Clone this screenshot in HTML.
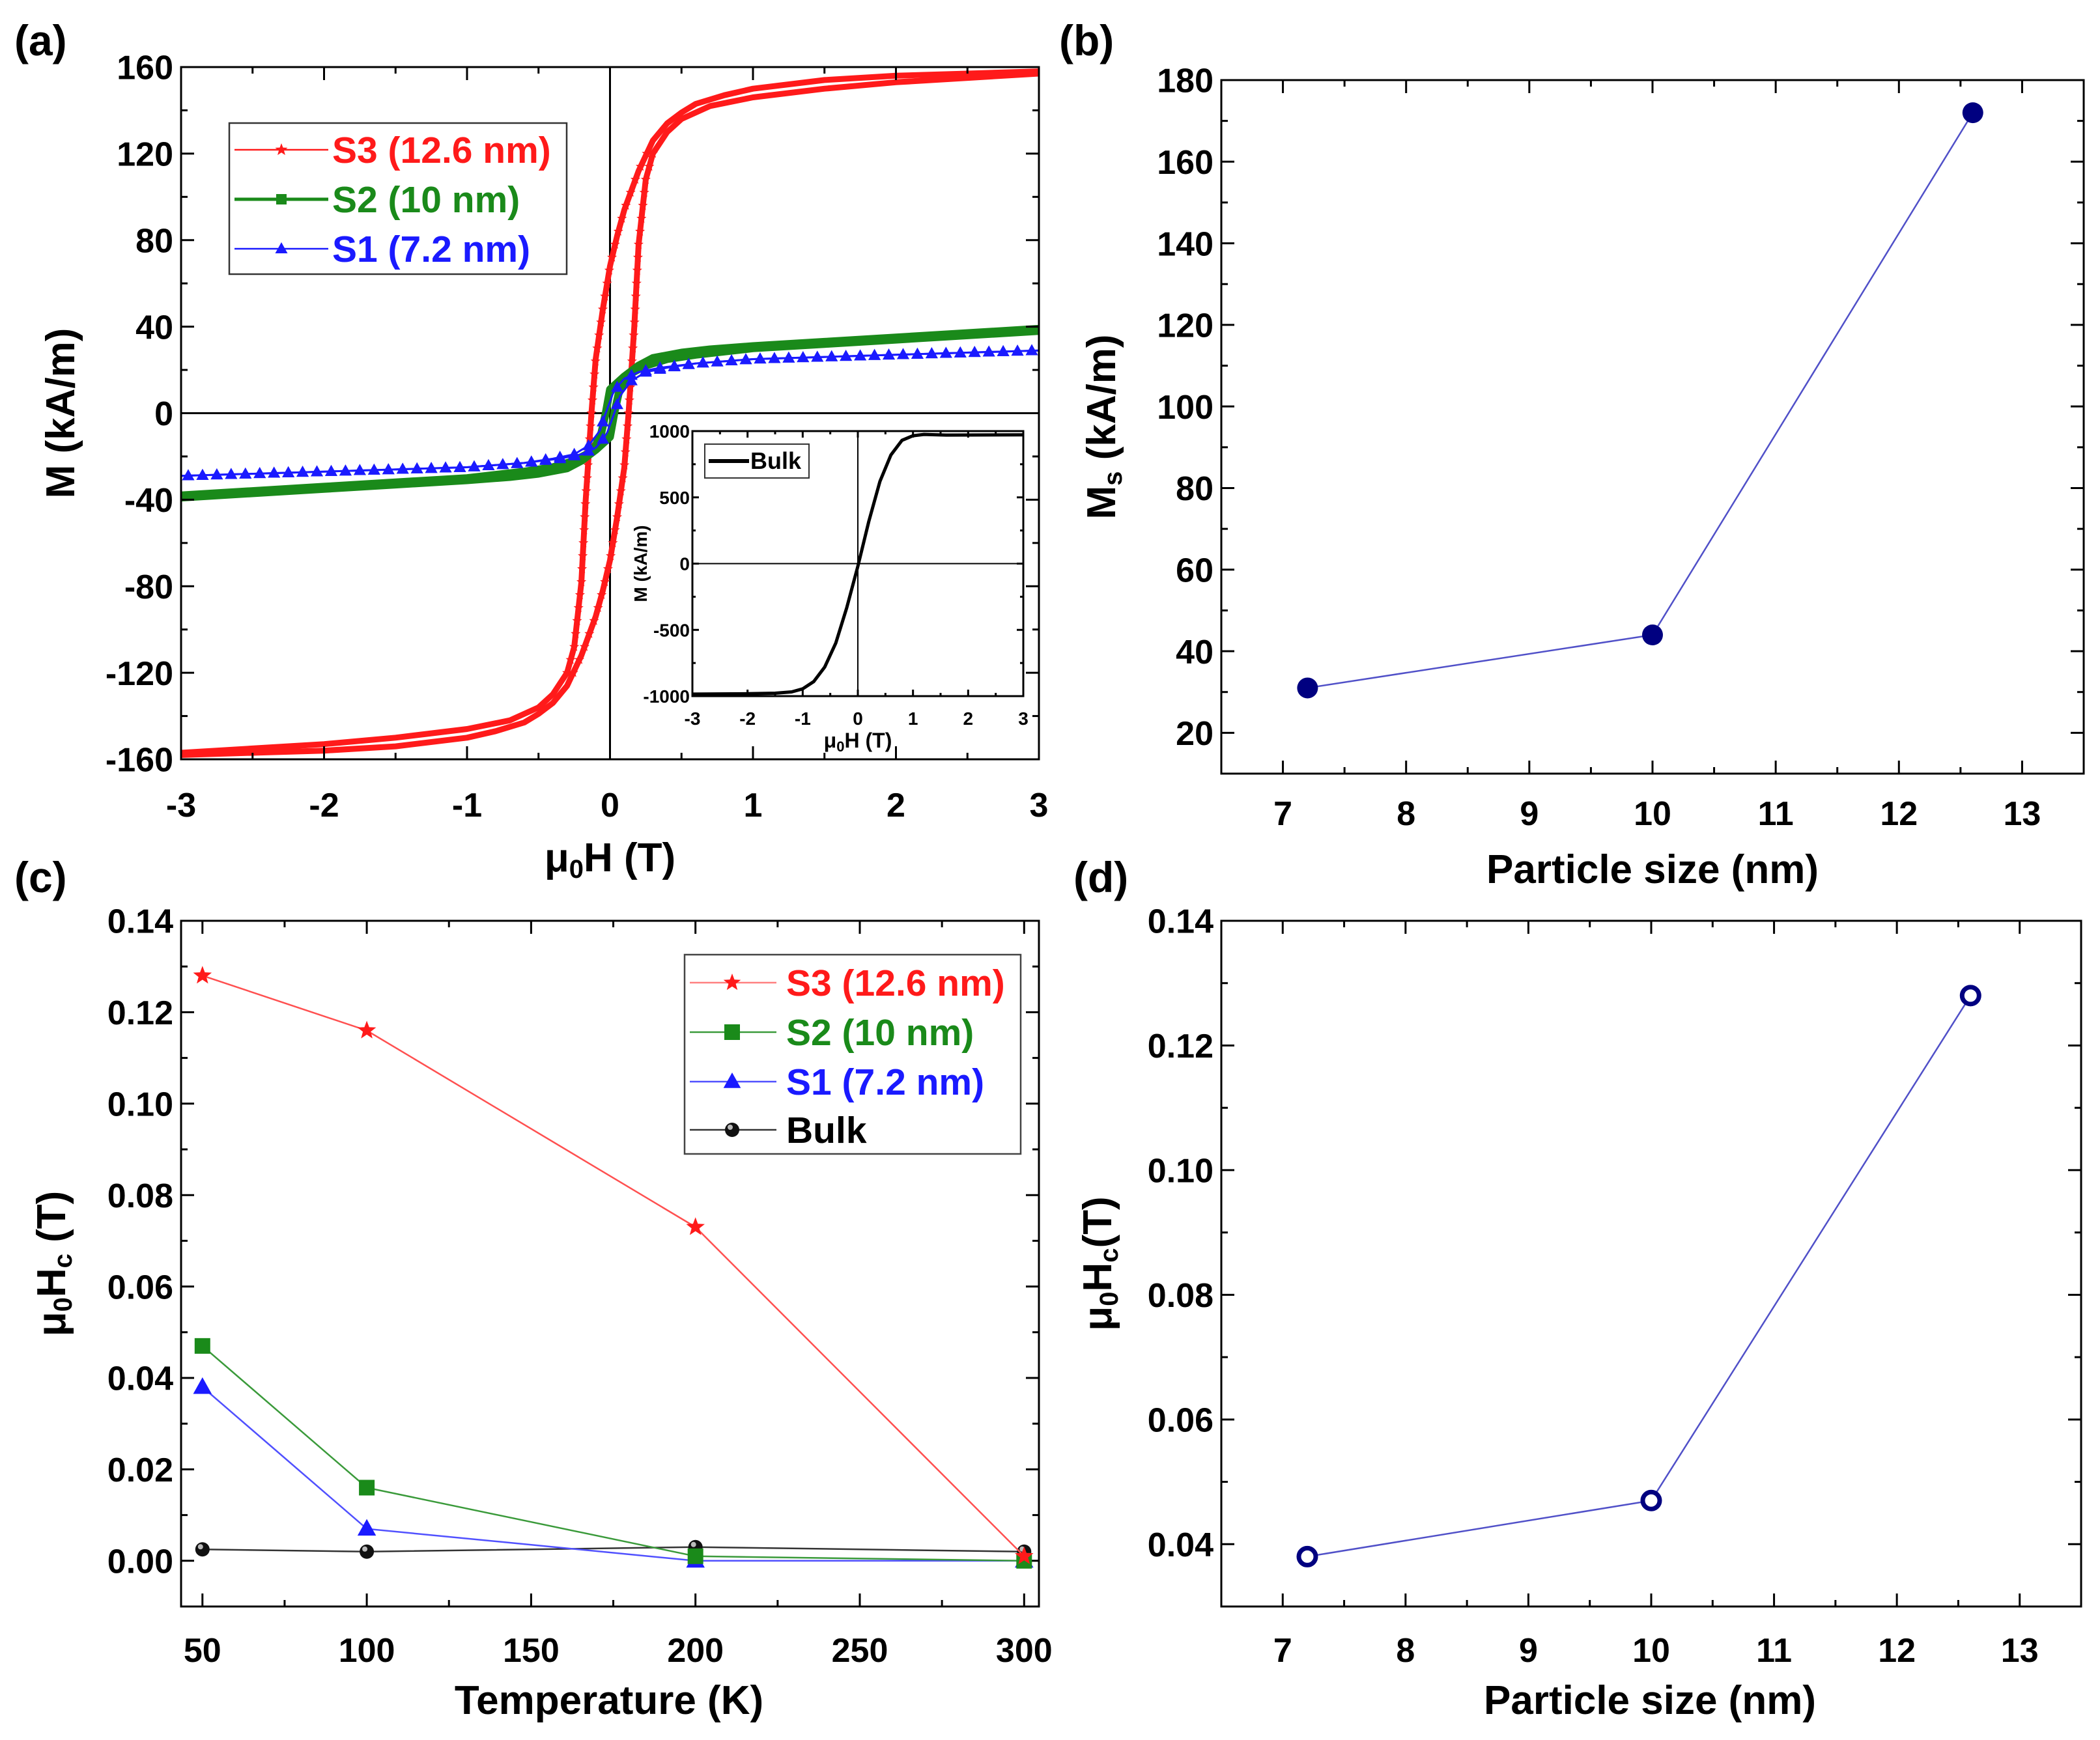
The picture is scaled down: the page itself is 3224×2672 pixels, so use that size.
<!DOCTYPE html>
<html><head><meta charset="utf-8"><style>
html,body{margin:0;padding:0;background:#fff;}
svg{display:block;font-family:"Liberation Sans Narrow","Liberation Sans",sans-serif;font-weight:bold;}
</style></head><body>
<svg id="fig" width="3224" height="2672" viewBox="0 0 3224 2672" xmlns="http://www.w3.org/2000/svg"></svg>
<script>
// ---- Panel (a) hysteresis data: descending branches (H in T, M in kA/m) ----
const s3H = [3, 2.5, 2, 1.5, 1, 0.8, 0.6, 0.5, 0.4, 0.3, 0.2, 0.1, 0.05, 0, -0.05, -0.1, -0.13, -0.17, -0.2, -0.25, -0.3, -0.4, -0.5, -0.7, -1, -1.5, -2, -3];
const s3M = [158, 157, 156, 154, 150, 147, 143, 139, 134, 126, 112, 94, 82, 68, 48, 25, 0, -40, -78, -108, -120, -130, -136, -142, -146, -150, -153, -157];
const s2H = [3, 2, 1.5, 1, 0.7, 0.5, 0.3, 0.2, 0.1, 0.05, 0, -0.03, -0.06, -0.1, -0.15, -0.25, -0.4, -0.6, -1, -1.5, -2, -3];
const s2M = [39, 35, 33, 31, 29.5, 28, 25.5, 22, 17, 14, 11, 0, -9, -15, -18.5, -22, -25, -27, -30, -32, -34, -38];
const s1H = [3, 2, 1, 0.6, 0.4, 0.25, 0.15, 0.07, 0.03, -0.02, -0.06, -0.1, -0.2, -0.35, -0.6, -1, -2, -3];
const s1M = [29, 27, 25, 23, 21, 19, 15, 8, 0, -9, -13, -16, -19, -21, -23, -25, -27, -29];
const bulkH = [-3, -2, -1.5, -1.2, -1, -0.8, -0.6, -0.4, -0.2, 0, 0.2, 0.4, 0.6, 0.8, 1, 1.2, 1.6, 3];
const bulkM = [-985, -982, -978, -968, -945, -890, -780, -600, -330, -20, 320, 620, 820, 930, 965, 975, 970, 972];
// ---- Panel (b) ----
const sizes = [7.2, 10, 12.6];
const msVals = [31, 44, 172];
// ---- Panel (c) ----
const temps = [50, 100, 200, 300];
const hcS3 = [0.128, 0.116, 0.073, 0.001];
const hcS2 = [0.047, 0.016, 0.001, 0.000];
const hcS1 = [0.038, 0.007, 0.000, 0.000];
const hcBulk = [0.0025, 0.002, 0.003, 0.002];
// ---- Panel (d) ----
const hcSize = [0.038, 0.047, 0.128];
// tick labels
const aXTicks = [-3,-2,-1,0,1,2,3];
const aYTicks = [-160,-120,-80,-40,0,40,80,120,160];
const inXTicks = [-3,-2,-1,0,1,2,3];
const inYTicks = [-1000,-500,0,500,1000];
const bXTicks = [7,8,9,10,11,12,13];
const bYTicks = [20,40,60,80,100,120,140,160,180];
const cXTicks = [50,100,150,200,250,300];
const cYTicks = ["0.00","0.02","0.04","0.06","0.08","0.10","0.12","0.14"];
const dYTicks = ["0.04","0.06","0.08","0.10","0.12","0.14"];

const NS="http://www.w3.org/2000/svg";
const svg=document.getElementById('fig');
function mk(tag,attrs,parent){const e=document.createElementNS(NS,tag);for(const k in attrs)e.setAttribute(k,attrs[k]);(parent||svg).appendChild(e);return e;}
function txt(s,attrs,parent){const e=mk('text',attrs,parent);e.textContent=s;return e;}
function scale(d0,d1,r0,r1){return v=>r0+(v-d0)*(r1-r0)/(d1-d0);}

function axes(g,L,R,T,B,xs,ys,xt,yt,xminor,yminor,fs,tl,xlabY,ylabX,name){
  mk('rect',{x:L,y:T,width:R-L,height:B-T,fill:'none',stroke:'#000','stroke-width':3},g);
  xt.forEach(v=>{const x=xs(+v);
    mk('line',{x1:x,y1:B,x2:x,y2:B-tl,stroke:'#000','stroke-width':3},g);
    mk('line',{x1:x,y1:T,x2:x,y2:T+tl,stroke:'#000','stroke-width':3},g);
    const t=txt(String(v),{x:x,y:xlabY,'text-anchor':'middle','font-size':fs},g);
    });
  xminor.forEach(v=>{const x=xs(v);
    mk('line',{x1:x,y1:B,x2:x,y2:B-tl/2,stroke:'#000','stroke-width':3},g);
    mk('line',{x1:x,y1:T,x2:x,y2:T+tl/2,stroke:'#000','stroke-width':3},g);});
  yt.forEach(v=>{const y=ys(+v);
    mk('line',{x1:L,y1:y,x2:L+tl,y2:y,stroke:'#000','stroke-width':3},g);
    mk('line',{x1:R,y1:y,x2:R-tl,y2:y,stroke:'#000','stroke-width':3},g);
    const t=txt(String(v),{x:ylabX,y:y+fs*0.36,'text-anchor':'end','font-size':fs},g);
    });
  yminor.forEach(v=>{const y=ys(v);
    mk('line',{x1:L,y1:y,x2:L+tl/2,y2:y,stroke:'#000','stroke-width':3},g);
    mk('line',{x1:R,y1:y,x2:R-tl/2,y2:y,stroke:'#000','stroke-width':3},g);});
}
function pathOf(xsArr,ysArr,xs,ys){return xsArr.map((v,i)=>(i?'L':'M')+xs(v).toFixed(1)+' '+ys(ysArr[i]).toFixed(1)).join(' ');}
function interp(H,M,h){
  for(let i=0;i<H.length-1;i++){const a=H[i],b=H[i+1];if((h<=a&&h>=b)||(h>=a&&h<=b)){return M[i]+(h-a)*(M[i+1]-M[i])/(b-a);}}
  return M[M.length-1];}
function star(cx,cy,r,fill,parent){let p='';for(let i=0;i<10;i++){const rr=i%2?r*0.42:r;const a=-Math.PI/2+i*Math.PI/5;p+=(i?'L':'M')+(cx+rr*Math.cos(a)).toFixed(1)+' '+(cy+rr*Math.sin(a)).toFixed(1);}return mk('path',{d:p+'Z',fill:fill},parent);}
function tri(cx,cy,r,fill,parent){return mk('path',{d:`M${cx} ${cy-r}L${cx+r*0.95} ${cy+r*0.7}L${cx-r*0.95} ${cy+r*0.7}Z`,fill:fill},parent);}

const TF=52, AF=62;
// ================= Panel (a) =================
{
const g=mk('g',{}); 
const L=278,R=1595,T=103,B=1166;
const xs=scale(-3,3,L,R), ys=scale(-160,160,B,T);
mk('line',{x1:L,y1:ys(0),x2:R,y2:ys(0),stroke:'#000','stroke-width':3},g);
mk('line',{x1:xs(0),y1:T,x2:xs(0),y2:B,stroke:'#000','stroke-width':3},g);
const minX=[];for(let v=-2.5;v<3;v+=1)minX.push(v);
const minY=[];for(let v=-140;v<160;v+=40)minY.push(v);
function loop(H,M,color,w,name){
  const up=H.map(h=>-h), upM=M.map(m=>-m);
  const p1=mk('path',{d:pathOf(H,M,xs,ys),fill:'none',stroke:color,'stroke-width':w,'stroke-linejoin':'round'},g);
  
  const p2=mk('path',{d:pathOf(up,upM,xs,ys),fill:'none',stroke:color,'stroke-width':w,'stroke-linejoin':'round'},g);
  
}
loop(s3H,s3M,'#ff1a1a',9,'s3-loop');
for(let m=-120;m<=120;m+=6){
  const hd=interp(s3M,s3H,m); star(xs(hd),ys(m),8,'#ff1a1a',g); star(xs(-hd),ys(-m),8,'#ff1a1a',g);
}
loop(s2H,s2M,'#1a8a1a',12,'s2-loop');
loop(s1H,s1M,'#1a1aff',3,'s1-loop');
for(let h=-2.95;h<=3;h+=0.1){
  tri(xs(h),ys(interp(s1H,s1M,h)),10,'#1a1aff',g);
  tri(xs(-h),ys(-interp(s1H,s1M,h)),10,'#1a1aff',g);
}
axes(g,L,R,T,B,xs,ys,aXTicks,aYTicks,minX,minY,TF,20,1254,L-12,'panel-a');
let t=txt('M (kA/m)',{transform:`translate(114,${ys(0)}) rotate(-90)`,'text-anchor':'middle','font-size':AF},g);

t=mk('text',{x:xs(0),y:1338,'text-anchor':'middle','font-size':AF},g);
t.innerHTML='μ<tspan font-size="40" dy="10">0</tspan><tspan dy="-10">H (T)</tspan>';

t=txt('(a)',{x:22,y:85,'font-size':66,'font-family':'Liberation Sans, sans-serif'},g);

const lg=mk('g',{},g);
mk('rect',{x:352,y:189,width:518,height:232,fill:'#fff',stroke:'#333','stroke-width':2.5},lg);
[['S3 (12.6 nm)','#ff1a1a',230],['S2 (10 nm)','#1a8a1a',306],['S1 (7.2 nm)','#1a1aff',382]].forEach((e,i)=>{
  const eg=mk('g',{},lg);
  mk('line',{x1:360,y1:e[2],x2:504,y2:e[2],stroke:e[1],'stroke-width':i==1?5:2.5},eg);
  if(i==0)star(432,e[2],10,e[1],eg);else if(i==1)mk('rect',{x:424,y:e[2]-8,width:16,height:16,fill:e[1]},eg);else tri(432,e[2],10,e[1],eg);
  txt(e[0],{x:510,y:e[2]+20,'font-size':57,fill:e[1]},eg);
});
const ig=mk('g',{},g);
const iL=1063,iR=1571,iT=662,iB=1069;
const ixs=scale(-3,3,iL,iR), iys=scale(-1000,1000,iB,iT);
mk('rect',{x:iL,y:iT,width:iR-iL,height:iB-iT,fill:'#fff'},ig);
mk('line',{x1:iL,y1:iys(0),x2:iR,y2:iys(0),stroke:'#000','stroke-width':2},ig);
mk('line',{x1:ixs(0),y1:iT,x2:ixs(0),y2:iB,stroke:'#000','stroke-width':2},ig);
const ip=mk('path',{d:pathOf(bulkH,bulkM,ixs,iys),fill:'none',stroke:'#000','stroke-width':5,'stroke-linejoin':'round'},ig);

axes(ig,iL,iR,iT,iB,ixs,iys,inXTicks,inYTicks,[-2.5,-1.5,-0.5,0.5,1.5,2.5],[-750,-250,250,750],28,10,1113,iL-4,'inset');
t=txt('M (kA/m)',{transform:`translate(993,${iys(0)}) rotate(-90)`,'text-anchor':'middle','font-size':28},ig);

t=mk('text',{x:ixs(0),y:1148,'text-anchor':'middle','font-size':32},ig);
t.innerHTML='μ<tspan font-size="22" dy="6">0</tspan><tspan dy="-6">H (T)</tspan>';

mk('rect',{x:1082,y:682,width:160,height:52,fill:'#fff',stroke:'#333','stroke-width':2},ig);
mk('line',{x1:1088,y1:708,x2:1150,y2:708,stroke:'#000','stroke-width':6},ig);
t=txt('Bulk',{x:1152,y:720,'font-size':36},ig);

}

// ================= Panel (b) =================
{
const g=mk('g',{});
const L=1875,R=3199,T=123,B=1188;
const xs=scale(6.5,13.5,L,R), ys=scale(10,180,B,T);
const minX=[6.5,7.5,8.5,9.5,10.5,11.5,12.5,13.5];const minY=[];for(let v=10;v<=170;v+=20)minY.push(v);
axes(g,L,R,T,B,xs,ys,bXTicks,bYTicks,minX,minY,TF,20,1267,L-12,'panel-b');
const p=mk('path',{d:pathOf(sizes,msVals,xs,ys),fill:'none',stroke:'#5050c8','stroke-width':2.5},g);

sizes.forEach((s,i)=>{const c=mk('circle',{cx:xs(s),cy:ys(msVals[i]),r:16,fill:'#000080'},g);
  });
let t=mk('text',{transform:`translate(1712,${ys(95)}) rotate(-90)`,'text-anchor':'middle','font-size':AF},g);
t.innerHTML='M<tspan font-size="40" dy="10">s</tspan><tspan dy="-10"> (kA/m)</tspan>';

t=txt('Particle size (nm)',{x:2537,y:1356,'text-anchor':'middle','font-size':AF},g);

t=txt('(b)',{x:1626,y:85,'font-size':66,'font-family':'Liberation Sans, sans-serif'},g);

}

// ================= Panel (c) =================
{
const g=mk('g',{});
const L=278,R=1595,T=1414,B=2467;
const xs=scale(43.5,304.5,L,R), ys=scale(-0.01,0.14,B,T);
const minX=[75,125,175,225,275];const minY=[-0.01,0.01,0.03,0.05,0.07,0.09,0.11,0.13];
axes(g,L,R,T,B,xs,ys,cXTicks,cYTicks,minX,minY,TF,20,2552,L-12,'panel-c');
const series=[[hcS3,'#ff5050','#ff1a1a','star','s3'],[hcS2,'#3a9a3a','#1a8a1a','sq','s2'],[hcS1,'#5050ff','#1a1aff','tri','s1'],[hcBulk,'#333','#000','circ','bulk']];
series.slice().reverse().forEach(s=>{
  const p=mk('path',{d:pathOf(temps,s[0],xs,ys),fill:'none',stroke:s[1],'stroke-width':2.5},g);
  
  temps.forEach((tv,i)=>{const x=xs(tv),y=ys(s[0][i]);let m;
    if(s[3]=='star')m=star(x,y,15,s[2],g);
    else if(s[3]=='sq')m=mk('rect',{x:x-12,y:y-12,width:24,height:24,fill:s[2]},g);
    else if(s[3]=='tri')m=tri(x,y,15,s[2],g);
    else {m=mk('circle',{cx:x,cy:y,r:11,fill:'#111'},g);mk('circle',{cx:x-3,cy:y-4,r:4,fill:'#bbb'},g);}
    });
});
let t=mk('text',{transform:`translate(100,${ys(0.065)}) rotate(-90)`,'text-anchor':'middle','font-size':AF},g);
t.innerHTML='μ<tspan font-size="40" dy="10">0</tspan><tspan dy="-10">H</tspan><tspan font-size="40" dy="10">c</tspan><tspan dy="-10"> (T)</tspan>';

t=txt('Temperature (K)',{x:935,y:2632,'text-anchor':'middle','font-size':AF},g);

t=txt('(c)',{x:22,y:1370,'font-size':66,'font-family':'Liberation Sans, sans-serif'},g);

const lg=mk('g',{},g);
mk('rect',{x:1051,y:1466,width:516,height:306,fill:'#fff',stroke:'#444','stroke-width':2.5},lg);
[['S3 (12.6 nm)','#ff1a1a','#ff8080',1509],['S2 (10 nm)','#1a8a1a','#3a9a3a',1585],['S1 (7.2 nm)','#1a1aff','#5050ff',1661],['Bulk','#000','#333',1735]].forEach((e,i)=>{
  const eg=mk('g',{},lg);
  mk('line',{x1:1059,y1:e[3],x2:1192,y2:e[3],stroke:e[2],'stroke-width':2.5},eg);
  const cx=1124;
  if(i==0)star(cx,e[3],14,e[1],eg);else if(i==1)mk('rect',{x:cx-12,y:e[3]-12,width:24,height:24,fill:e[1]},eg);
  else if(i==2)tri(cx,e[3],14,e[1],eg);else{mk('circle',{cx:cx,cy:e[3],r:11,fill:'#111'},eg);mk('circle',{cx:cx-3,cy:e[3]-4,r:4,fill:'#bbb'},eg);}
  txt(e[0],{x:1207,y:e[3]+20,'font-size':57,fill:e[1]},eg);
});
}

// ================= Panel (d) =================
{
const g=mk('g',{});
const L=1875,R=3195,T=1414,B=2467;
const xs=scale(6.5,13.5,L,R), ys=scale(0.03,0.14,B,T);
const minX=[6.5,7.5,8.5,9.5,10.5,11.5,12.5,13.5];const minY=[0.03,0.05,0.07,0.09,0.11,0.13];
axes(g,L,R,T,B,xs,ys,bXTicks,dYTicks,minX,minY,TF,20,2552,L-12,'panel-d');
const p=mk('path',{d:pathOf(sizes,hcSize,xs,ys),fill:'none',stroke:'#5050c8','stroke-width':2.5},g);

sizes.forEach((s,i)=>{const c=mk('circle',{cx:xs(s),cy:ys(hcSize[i]),r:13,fill:'#fff',stroke:'#000080','stroke-width':7},g);
  });
let t=mk('text',{transform:`translate(1706,${ys(0.085)}) rotate(-90)`,'text-anchor':'middle','font-size':AF},g);
t.innerHTML='μ<tspan font-size="40" dy="10">0</tspan><tspan dy="-10">H</tspan><tspan font-size="40" dy="10">c</tspan><tspan dy="-10">(T)</tspan>';

t=txt('Particle size (nm)',{x:2533,y:2632,'text-anchor':'middle','font-size':AF},g);

t=txt('(d)',{x:1648,y:1370,'font-size':66,'font-family':'Liberation Sans, sans-serif'},g);

}
</script>
</body></html>
